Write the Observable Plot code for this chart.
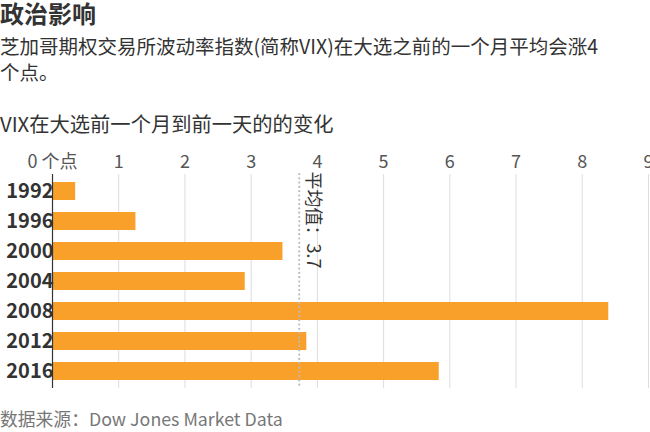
<!DOCTYPE html>
<html><head><meta charset="utf-8">
<script src="https://cdn.jsdelivr.net/npm/d3@7"></script>
<script src="https://cdn.jsdelivr.net/npm/@observablehq/plot@0.6"></script>
<style>
body{margin:0;background:#fff;font-family:"Noto Sans CJK SC","Noto Sans",sans-serif;color:#333;}
#wrap{position:relative;width:650px;height:432px;overflow:hidden;}
.t{position:absolute;left:0;white-space:nowrap;}
#title{top:0px;font-size:24px;font-weight:bold;line-height:26px;color:#333;}
#sub{top:33px;font-size:19.5px;line-height:26px;color:#333;white-space:normal;width:610px;}
#ctitle{top:108px;font-size:20.3px;line-height:30px;color:#333;}
#chart{position:absolute;left:0;top:140px;}
#foot{top:404px;font-size:17.8px;line-height:28px;color:#777;}
</style></head>
<body><div id="wrap">
<div class="t" id="title">政治影响</div>
<div class="t" id="sub">芝加哥期权交易所波动率指数(简称VIX)在大选之前的一个月平均会涨4个点。</div>
<div class="t" id="ctitle">VIX在大选前一个月到前一天的的变化</div>
<div id="chart"></div>
<div class="t" id="foot">数据来源：Dow Jones Market Data</div>
</div>
<script>
const years = ["1992","1996","2000","2004","2008","2012","2016"];
const changes = [0.35, 1.26, 3.48, 2.91, 8.40, 3.84, 5.84];
const xTicks = [0,1,2,3,4,5,6,7,8,9];
const meanLabel = "平均值：";

const data = years.map((y,i)=>({year:y, value:changes[i]}));
const mean = d3.mean(changes);

const chart = Plot.plot({
  width: 650, height: 254,
  marginTop: 34, marginBottom: 6, marginLeft: 52, marginRight: 2,
  style: {fontFamily: '"Noto Sans CJK SC","Noto Sans",sans-serif', background: "transparent", overflow: "visible"},
  x: {domain: [0,9], axis: null, label: null},
  y: {domain: years, padding: 0.4, paddingOuter: 0.2, axis: null, label: null},
  marks: [
    Plot.ruleX(xTicks.slice(1), {stroke: "#ddd", strokeWidth: 1}),
    Plot.axisX(xTicks, {anchor: "top", tickSize: 0, tickPadding: 7, fontSize: 18, fill: "#555", label: null,
      tickFormat: d => d === 0 ? "0 个点" : String(d)}),
    Plot.barX(data, {x: "value", y: "year", fill: "#f8a02a"}),
    Plot.ruleX([0], {stroke: "#333", strokeWidth: 1.2}),
    Plot.axisY({anchor: "left", tickSize: 0, tickPadding: -1, fontSize: 20, fontWeight: "bold", fill: "#333", label: null}),
    Plot.ruleX([mean], {stroke: "#bbb", strokeWidth: 2.2, strokeDasharray: "0,4.3", strokeLinecap: "round"}),
    Plot.text([meanLabel + mean.toFixed(1)], {x: mean, frameAnchor: "top", rotate: 90, textAnchor: "start",
      dx: 21, dy: -3, fontSize: 18, fill: "#333", text: d => d})
  ]
});
document.getElementById("chart").appendChild(chart);
</script>
</body></html>
